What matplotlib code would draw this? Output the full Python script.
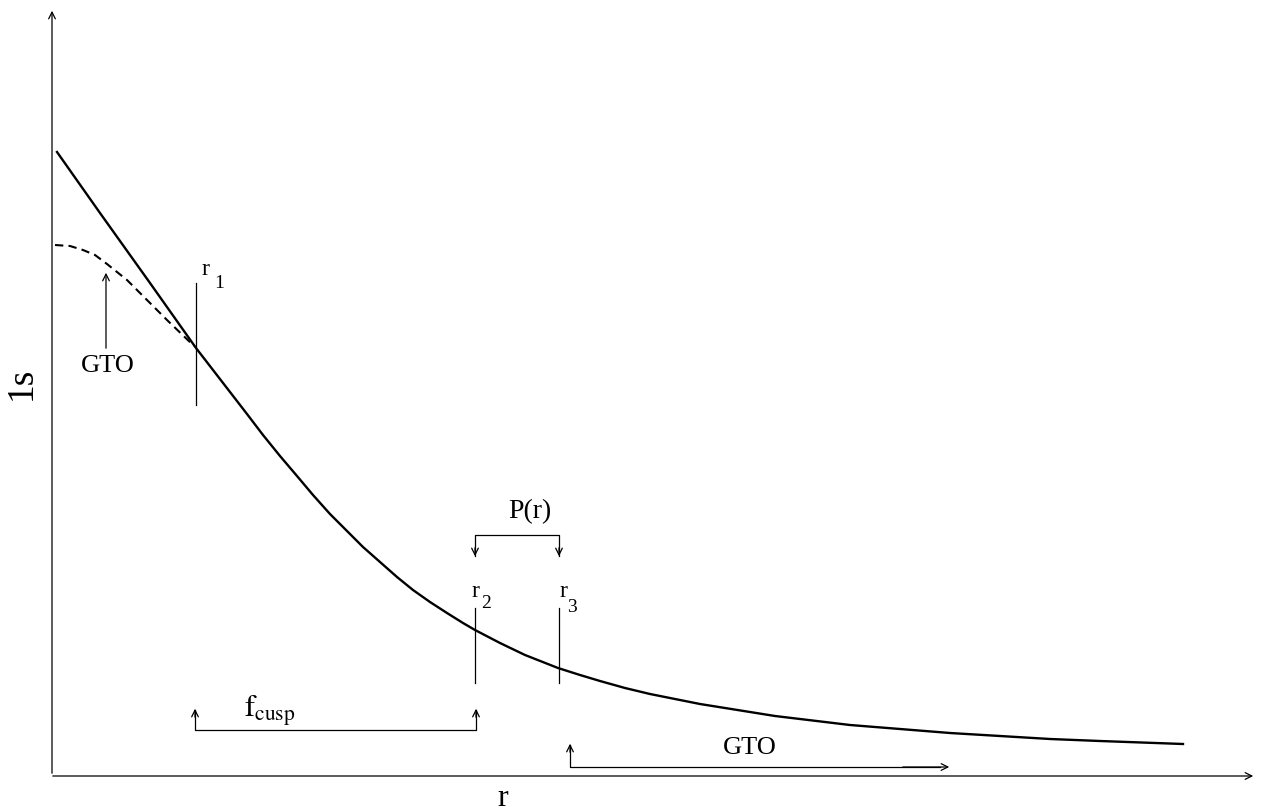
import matplotlib.pyplot as plt
import numpy as np

# schematic coordinates (picture units: r to the right, 1s downward)
solid_r = [57, 100, 150, 196, 213, 230, 247, 263, 280, 297, 313, 330, 347,
           363, 380, 397, 413, 430, 447, 463, 475, 500, 525, 558, 580, 600,
           625, 650, 675, 700, 725, 750, 775, 800, 825, 850, 875, 900, 950,
           1000, 1050, 1100, 1183]
solid_s = [152, 213, 283, 348, 370, 392, 414, 435, 456, 476, 495, 514, 531,
           547, 562, 577, 590, 602, 613, 623, 630, 643, 655, 668, 675, 681,
           688, 694, 699, 704, 708, 712, 716, 719, 722, 725, 727, 729, 733,
           736, 739, 741, 744]
gto_r = [55, 70, 83, 95, 107, 127, 147, 167, 194]
gto_s = [245, 246, 250, 255, 264, 280, 300, 320, 346]

r_marks = [196, 475, 559]
r_names = ['1', '2', '3']
mark_top = [283, 608, 608]
mark_bot = [405, 683, 683]

plt.rcParams['font.family'] = ['Liberation Serif', 'DejaVu Serif']
plt.rcParams['mathtext.fontset'] = 'stix'

fig = plt.figure(figsize=(12.65, 8.11), dpi=100)
ax = fig.add_axes([0, 0, 1, 1])
ax.set_xlim(0, 1265)
ax.set_ylim(811, 0)
ax.axis('off')

arr = dict(arrowstyle='->', lw=0.9, color='black', mutation_scale=12)

# axes
ax.annotate('', xy=(52, 8), xytext=(52, 776), arrowprops=arr)
ax.annotate('', xy=(1256, 776), xytext=(50, 776), arrowprops=arr)
ax.text(21, 383, '1s', rotation=90, fontsize=27, ha='center', va='center')
ax.text(503, 798, 'r', fontsize=23, ha='center', va='center')

# curves
ax.plot(solid_r, solid_s, color='black', lw=1.7, solid_joinstyle='round')
ax.plot(gto_r, gto_s, color='black', lw=1.5, ls=(0, (4, 2.5)))

# r markers
lab_dx = [5, -3, 0]
lab_dy = [-8, -11, -11]
sub_dx = [18, 6, 8]
sub_dy = [5, 0, 4]
for i in range(3):
    x = r_marks[i]
    t = mark_top[i]
    ax.plot([x, x], [t, mark_bot[i]], color='black', lw=0.9)
    ax.text(x + lab_dx[i], t + lab_dy[i], 'r', fontsize=17, ha='left', va='baseline')
    ax.text(x + sub_dx[i], t + sub_dy[i], r_names[i], fontsize=14, ha='left', va='baseline')

# GTO arrow at top left
ax.annotate('', xy=(106, 270), xytext=(106, 351), arrowprops=arr)
ax.text(108, 366, 'GTO', fontsize=19, ha='center', va='center')

# P(r) bracket
ax.plot([475, 475, 559, 559], [556, 535, 535, 556], color='black', lw=0.9)
ax.annotate('', xy=(475, 559), xytext=(475, 545), arrowprops=arr)
ax.annotate('', xy=(559, 559), xytext=(559, 545), arrowprops=arr)
ax.text(530, 512, 'P(r)', fontsize=20, ha='center', va='center')

# f_cusp bracket
ax.plot([195, 195, 476, 476], [710, 730, 730, 710], color='black', lw=0.9)
ax.annotate('', xy=(195, 706), xytext=(195, 720), arrowprops=arr)
ax.annotate('', xy=(476, 706), xytext=(476, 720), arrowprops=arr)
ax.text(270, 711, r'$\mathrm{f_{cusp}}$', fontsize=22, ha='center', va='center')

# GTO bracket at bottom
ax.plot([570, 570, 940], [745, 767, 767], color='black', lw=0.9)
ax.annotate('', xy=(570, 741), xytext=(570, 755), arrowprops=arr)
ax.annotate('', xy=(952, 767), xytext=(900, 767), arrowprops=arr)
ax.text(750, 748, 'GTO', fontsize=19, ha='center', va='center')

fig.savefig('out.png', dpi=100)
